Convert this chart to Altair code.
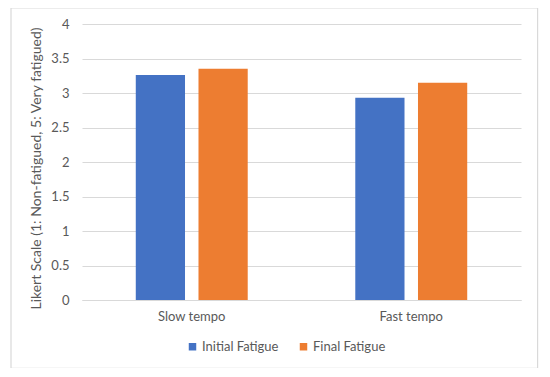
import altair as alt
import pandas as pd

categories = ["Slow tempo", "Fast tempo"]
series = ["Initial Fatigue", "Final Fatigue"]
initial_values = [3.26, 2.93]
final_values = [3.35, 3.15]
colors = ["#4472C4", "#ED7D31"]
y_ticks = [0, 0.5, 1, 1.5, 2, 2.5, 3, 3.5, 4]

rows = []
for c, a, b in zip(categories, initial_values, final_values):
    rows.append({"tempo": c, "series": series[0], "value": a})
    rows.append({"tempo": c, "series": series[1], "value": b})
df = pd.DataFrame(rows)

FONT = "Lato"
GREY = "#595959"

bars = alt.Chart(df).mark_bar().encode(
    x=alt.X("tempo:N", sort=categories, title=None,
            scale=alt.Scale(paddingInner=0.49, paddingOuter=0.245),
            axis=alt.Axis(labelAngle=0, ticks=False, labelPadding=10,
                          domainColor="#d9d9d9", labelFontSize=13,
                          labelColor=GREY, labelFont=FONT)),
    xOffset=alt.XOffset("series:N", sort=series,
                        scale=alt.Scale(paddingInner=0.215, paddingOuter=0)),
    y=alt.Y("value:Q", title="Likert Scale (1: Non-fatigued, 5: Very fatigued)",
            scale=alt.Scale(domain=[0, 4], nice=False),
            axis=alt.Axis(values=y_ticks, format="~g", ticks=False, domain=False,
                          labelPadding=13, gridColor="#d9d9d9",
                          labelFontSize=13, labelColor=GREY, labelFont=FONT,
                          titleFontSize=14, titleFontWeight="normal",
                          titleColor=GREY, titleFont=FONT, titlePadding=7,
                          titleY=144)),
    color=alt.Color("series:N", sort=series,
                    scale=alt.Scale(domain=series, range=colors),
                    legend=alt.Legend(title=None, orient="none", direction="horizontal",
                                      legendX=104, legendY=316,
                                      symbolType="square", symbolSize=56,
                                      symbolStrokeWidth=0, labelOffset=3,
                                      columnPadding=18,
                                      labelFontSize=13, labelColor=GREY,
                                      labelFont=FONT)),
)

border = alt.Chart(pd.DataFrame({"a": [0]})).mark_rect(
    fill=None, stroke="#d9d9d9", strokeWidth=1.2, clip=False
).encode(
    x=alt.value(-71), x2=alt.value(455.6),
    y=alt.value(-16), y2=alt.value(344.3),
)

chart = alt.layer(border, bars).properties(
    width=439, height=276,
    autosize=alt.AutoSizeParams(type="none"),
    padding={"left": 74, "top": 16, "right": 20, "bottom": 68},
).configure_view(stroke=None)

chart.save("out.html", embed_options={"renderer": "svg", "actions": False})
